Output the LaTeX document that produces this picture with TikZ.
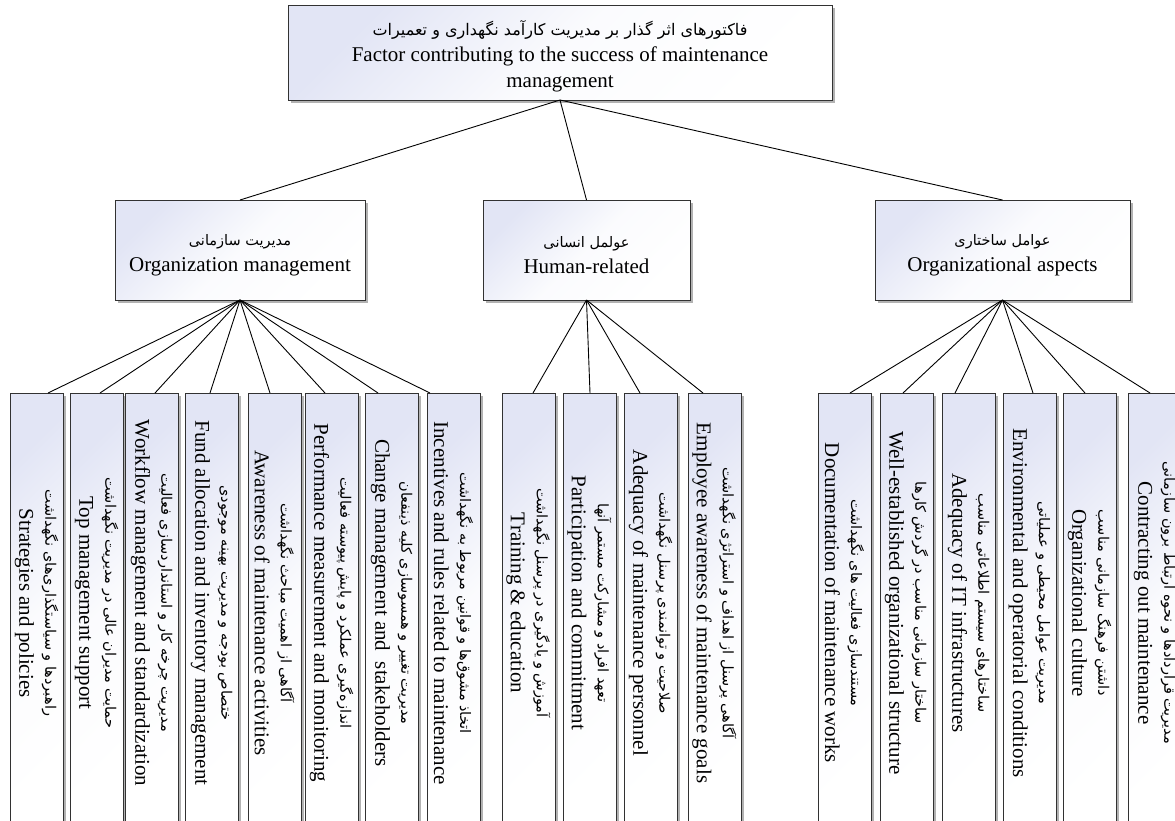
\documentclass[tikz,border=0pt]{standalone}
\usepackage{fontspec}
\setmainfont{Liberation Serif}
\newfontfamily\fa[Script=Arabic]{DejaVu Sans}
\TeXXeTstate=1
\usetikzlibrary{shadows,calc}
\definecolor{lav}{RGB}{226,229,245}
\definecolor{bordc}{RGB}{50,50,50}
\newcommand{\fat}[1]{{\fa\fontsize{14.5}{17}\selectfont\beginR #1\endR}}
\newcommand{\fatop}[1]{{\fa\fontsize{16}{19}\selectfont\beginR #1\endR}}
\tikzset{
  box/.style={draw=bordc, line width=0.9pt, top color=lav, bottom color=white,
    middle color=lav!15!white, shading angle=45,
    general shadow={fill=gray!60, shadow xshift=2.5pt, shadow yshift=-2.5pt},
    inner sep=0pt, outer sep=0pt},
  leafbox/.style={box, minimum width=53pt, minimum height=440pt},
  midbox/.style={box, minimum height=100pt},
  txt/.style={align=center, font=\fontsize{21}{26}\selectfont, inner sep=0pt},
  leaftxt/.style={txt, rotate=-90},
  conn/.style={draw=black, line width=0.9pt},
}
\begin{document}
\begin{tikzpicture}[x=1pt,y=-1pt]
\path[use as bounding box, clip] (0,0) rectangle (1175,820);
\fill[white] (0,0) rectangle (1175,820);

% top
\node[box, minimum width=544pt, minimum height=95pt] (top) at (560,52.5) {};
\node[txt] (toptxt) at (560,56) {\fatop{فاکتورهای اثر گذار بر مدیریت کارآمد نگهداری و تعمیرات}\\Factor contributing to the success of maintenance\\management};

% mid level
\node[midbox, minimum width=250pt] (m1) at (240,250) {};
\node[txt] (m1t) at (240,255) {\fat{مدیریت سازمانی}\\Organization management};
\node[midbox, minimum width=207pt] (m2) at (586.5,250) {};
\node[txt] (m2t) at (586.5,255) {\fat{عولمل انسانی}\\Human-related};
\node[midbox, minimum width=255pt] (m3) at (1002.5,250) {};
\node[txt] (m3t) at (1002.5,255) {\fat{عوامل ساختاری}\\Organizational aspects};

\draw[conn] (top.south) -- (m1.north);
\draw[conn] (top.south) -- (m2.north);
\draw[conn] (top.south) -- (m3.north);

% leaves: organization management
\node[leafbox] (l1) at (36.5,613) {};
\node[leaftxt] (t1) at (36.5,603) {\fat{راهبردها و سیاستگذاری‌های نگهداشت}\\Strategies and policies};
\node[leafbox] (l2) at (96.5,613) {};
\node[leaftxt] (t2) at (96.5,603) {\fat{حمایت مدیران عالی در مدیریت نگهداشت}\\Top management support};
\node[leafbox] (l3) at (151.5,613) {};
\node[leaftxt] (t3) at (151.5,603) {\fat{مدیریت چرخه کار و استانداردسازی فعالیت}\\Workflow management and standardization};
\node[leafbox] (l4) at (211.5,613) {};
\node[leaftxt] (t4) at (211.5,603) {\fat{ختصاص بودجه و مدیریت بهینه موجودی}\\Fund allocation and inventory management};
\node[leafbox] (l5) at (274.5,613) {};
\node[leaftxt] (t5) at (274.5,603) {\fat{آگاهی از اهمیت مباحث نگهداشت}\\Awareness of maintenance activities};
\node[leafbox] (l6) at (331.5,613) {};
\node[leaftxt] (t6) at (331.5,603) {\fat{اندازه‌گیری عملکرد و پایش پیوسته فعالیت}\\Performance measurement and monitoring};
\node[leafbox] (l7) at (391.5,613) {};
\node[leaftxt] (t7) at (391.5,603) {\fat{مدیریت تغییر و همسوسازی کلیه ذینفعان}\\Change management and\ \ stakeholders};
\node[leafbox] (l8) at (453.5,613) {};
\node[leaftxt] (t8) at (453.5,603) {\fat{اتخاذ مشوق‌ها و قوانین مربوط به نگهداشت}\\Incentives and rules related to maintenance};

% leaves: human
\node[leafbox] (l9) at (528.5,613) {};
\node[leaftxt] (t9) at (528.5,603) {\fat{آموزش و یادگیری در پرسنل نگهداشت}\\Training \& education};
\node[leafbox] (l10) at (589.5,613) {};
\node[leaftxt] (t10) at (589.5,603) {\fat{تعهد افراد و مشارکت مستمر آنها}\\Participation and commitment};
\node[leafbox] (l11) at (650.5,613) {};
\node[leaftxt] (t11) at (650.5,603) {\fat{صلاحیت و توانمندی پرسنل نگهداشت}\\Adequacy of maintenance personnel};
\node[leafbox] (l12) at (714.5,613) {};
\node[leaftxt] (t12) at (714.5,603) {\fat{آگاهی پرسنل از اهداف و استراتژی نگهداشت}\\Employee awareness of maintenance goals};

% leaves: structural
\node[leafbox] (l13) at (844.5,613) {};
\node[leaftxt] (t13) at (844.5,603) {\fat{مستندسازی فعالیت های نگهداشت}\\Documentation of maintenance works};
\node[leafbox] (l14) at (906.5,613) {};
\node[leaftxt] (t14) at (906.5,603) {\fat{ساختار سازمانی مناسب در گردش کارها}\\Well-established organizational structure};
\node[leafbox] (l15) at (968.5,613) {};
\node[leaftxt] (t15) at (968.5,603) {\fat{ساختارهای سیستم اطلاعاتی مناسب}\\Adequacy of IT infrastructures};
\node[leafbox] (l16) at (1029.5,613) {};
\node[leaftxt] (t16) at (1029.5,603) {\fat{مدیریت عوامل محیطی و عملیاتی}\\Environmental and operatorial conditions};
\node[leafbox] (l17) at (1089.5,613) {};
\node[leaftxt] (t17) at (1089.5,603) {\fat{داشتن فرهنگ سازمانی مناسب}\\Organizational culture};
\node[leafbox] (l18) at (1154.5,613) {};
\node[leaftxt] (t18) at (1154.5,603) {\fat{مدیریت قراردادها و نحوه ارتباط برون سازمانی}\\Contracting out maintenance};

% connectors
\foreach \n/\d in {1/38,2/30,3/30,4/25,5/22,6/20,7/13,8/3}
  \draw[conn] (m1.south) -- ($(l\n.north west)+(\d,0)$);
\foreach \n/\d in {9/31,10/27,11/16,12/15}
  \draw[conn] (m2.south) -- ($(l\n.north west)+(\d,0)$);
\foreach \n/\d in {13/32,14/23,15/13,16/30,17/22,18/22}
  \draw[conn] (m3.south) -- ($(l\n.north west)+(\d,0)$);
\end{tikzpicture}
\end{document}
